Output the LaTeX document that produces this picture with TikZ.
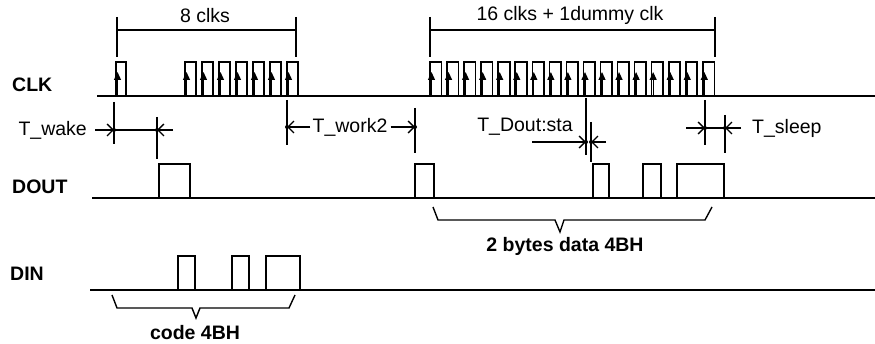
\documentclass[tikz,border=0pt]{standalone}
\usepackage{fontspec}
\setmainfont{Liberation Sans}
\usetikzlibrary{arrows.meta}
\begin{document}
\begin{tikzpicture}[x=1pt,y=-1pt,
  sig/.style={line width=1.6pt},
  lbl/.style={font=\fontsize{19.5}{20}\selectfont\bfseries, inner sep=0pt},
  txt/.style={font=\fontsize{19.5}{20}\selectfont, inner sep=0pt},
  clkarrow/.style={-{Triangle[length=8pt,width=7pt]}, line width=1.3pt},
  dimarrow/.style={-{Straight Barb[length=6pt,width=12pt,line width=1.3pt]}, line width=1.3pt},
  dimline/.style={line width=1.4pt},
  tipdot/.style={fill=black, circle, inner sep=0pt, minimum size=4pt}]
\useasboundingbox (0,0) rectangle (875,344);

% ---------- labels ----------
\node[lbl, anchor=west] (clk) at (12,85) {CLK};
\node[lbl, anchor=west] (dout) at (12,187) {DOUT};
\node[lbl, anchor=west] (din) at (10,274) {DIN};

% ---------- CLK ----------
\draw[sig] (97,96) -- (875,96);
\foreach \x/\w in {116/10,185/11,202/11,219/11,236/11,253/11,270/11,287/11}{
  \draw[sig] (\x,96) -- (\x,62) -- (\x+\w,62) -- (\x+\w,96);
  \draw[clkarrow] (\x+1.5,96) -- (\x+1.5,72);
}
\foreach \k in {0,...,16}{
  \pgfmathsetmacro{\x}{430+17.05*\k}
  \draw[sig] (\x,96) -- (\x,62) -- (\x+11.5,62) -- (\x+11.5,96);
  \draw[clkarrow] (\x+1.5,96) -- (\x+1.5,72);
}

% 8 clks bracket
\draw[dimline] (117,17) -- (117,57);
\draw[dimline] (296,17) -- (296,57);
\draw[dimline] (117,30) -- (296,30);
\node[txt] (eight) at (205,16) {8 clks};
% 16 clks bracket
\draw[dimline] (430,17) -- (430,57);
\draw[dimline] (715,17) -- (715,57);
\draw[dimline] (430,30) -- (715,30);
\node[txt] (sixteen) at (570,15) {16 clks + 1dummy clk};

% ---------- T_wake ----------
\draw[dimline] (114,102) -- (114,144);
\draw[dimline] (157,117) -- (157,159);
\draw[dimline] (114,130) -- (157,130);
\node[txt, anchor=east] (twake) at (87,130) {T\_wake};
\coordinate (wakeA) at (114,130);
\coordinate (wakeB) at (157,130);
\draw[dimarrow] (95,130) -- (wakeA);
\draw[dimarrow] (173,130) -- (wakeB);
\node[tipdot] at (wakeA) {};
\node[tipdot] at (wakeB) {};

% ---------- T_work2 ----------
\draw[dimline] (287,100) -- (287,145);
\draw[dimline] (415,108) -- (415,153);
\node[txt] (twork) at (350,127) {T\_work2};
\coordinate (workA) at (287,127);
\coordinate (workB) at (415,127);
\draw[dimarrow] (twork.west) ++(-2,0) -- (workA);
\draw[dimarrow] (twork.east) ++(3,0) -- (workB);
\node[tipdot] at (workA) {};
\node[tipdot] at (workB) {};

% ---------- T_Dout:sta ----------
\draw[dimline] (586,98) -- (586,155);
\draw[dimline] (591,122) -- (591,162);
\node[txt] (tdout) at (525,127) {T\_Dout:sta};
\coordinate (staA) at (586,142);
\coordinate (staB) at (591,142);
\draw[dimarrow] (532,142) -- (staA);
\draw[dimarrow] (606,142) -- (staB);
\node[tipdot] at (staA) {};
\node[tipdot] at (staB) {};

% ---------- T_sleep ----------
\draw[dimline] (705,100) -- (705,145);
\draw[dimline] (725,115) -- (725,153);
\draw[dimline] (705,128) -- (725,128);
\node[txt, anchor=west] (tsleep) at (752,128) {T\_sleep};
\coordinate (sleepA) at (705,128);
\coordinate (sleepB) at (725,128);
\draw[dimarrow] (686,128) -- (sleepA);
\draw[dimarrow] (741,128) -- (sleepB);
\node[tipdot] at (sleepA) {};
\node[tipdot] at (sleepB) {};

% ---------- DOUT ----------
\draw[sig] (92,198) -- (875,198);
\foreach \a/\b in {159/190,415/434,593/609,643/661,677/724}{
  \draw[sig] (\a,198) -- (\a,164) -- (\b,164) -- (\b,198);
}
\draw[dimline] (433,207) -- (438,220) -- (555,220) -- (560,232) -- (564,220) -- (705,220) -- (712,207);
\node[lbl] (bytes) at (565,246) {2 bytes data 4BH};

% ---------- DIN ----------
\draw[sig] (90,290) -- (875,290);
\foreach \a/\b in {178/195,232/249,266/300}{
  \draw[sig] (\a,290) -- (\a,256) -- (\b,256) -- (\b,290);
}
\draw[dimline] (112,295) -- (117,308) -- (192,308) -- (196,318) -- (200,308) -- (289,308) -- (295,295);
\node[lbl] (code) at (195,333) {code 4BH};
\end{tikzpicture}
\end{document}
